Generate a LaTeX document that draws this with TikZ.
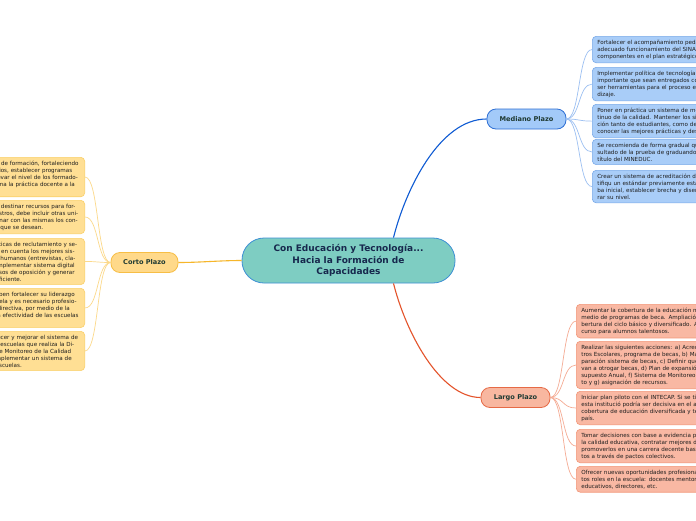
\documentclass[tikz,border=0pt]{standalone}
\usepackage{fontspec}
\setmainfont{DejaVu Sans}
\definecolor{cenf}{HTML}{7ECDC2}
\definecolor{cenb}{HTML}{3D8FD4}
\definecolor{cent}{HTML}{17284D}
\definecolor{medf}{HTML}{A3CAF9}
\definecolor{medb}{HTML}{2E6FD4}
\definecolor{medc}{HTML}{0F5BD3}
\definecolor{corf}{HTML}{FFD98A}
\definecolor{corb}{HTML}{F7BE45}
\definecolor{corc}{HTML}{F6B62A}
\definecolor{larf}{HTML}{F8B7A0}
\definecolor{larb}{HTML}{E66A46}
\definecolor{larc}{HTML}{E4532B}
\definecolor{mlf}{HTML}{A9CDF8}
\definecolor{mlb}{HTML}{7AAAE8}
\definecolor{mfan}{HTML}{9CC0F2}
\definecolor{clf}{HTML}{FFDF94}
\definecolor{clb}{HTML}{FAD06A}
\definecolor{cfan}{HTML}{FCD98A}
\definecolor{llf}{HTML}{F9B8A3}
\definecolor{llb}{HTML}{F29678}
\definecolor{lfan}{HTML}{F5AC94}
\definecolor{brt}{HTML}{1F3A33}
\definecolor{leaft}{HTML}{1E1E1E}
\newcommand\leaffont{\fontsize{5.6}{7}\selectfont}
\newcommand\LN[1]{\mbox{#1}}
\begin{document}
\begin{tikzpicture}[x=1pt,y=-1pt,
  central/.style={draw=cenb, fill=cenf, line width=0.8pt, rounded corners=22pt,
    minimum width=213pt, minimum height=45pt, align=center, inner sep=0pt,
    font=\fontsize{9}{11.5}\selectfont\bfseries, text=cent},
  branch/.style={line width=0.8pt, rounded corners=9pt, minimum height=20pt,
    inner sep=0pt, font=\fontsize{6.6}{8}\selectfont\bfseries, text=brt},
  leafbase/.style={rounded corners=4pt, line width=0.6pt, align=left,
    inner ysep=3.5pt, font=\leaffont, text=leaft},
  leafR/.style={leafbase, anchor=north west, text width=200pt, inner xsep=5pt},
  leafL/.style={leafbase, anchor=north east, text width=86pt, inner xsep=3pt},
  mleaf/.style={leafR, draw=mlb, fill=mlf},
  lleaf/.style={leafR, draw=llb, fill=llf},
  cleaf/.style={leafL, draw=clb, fill=clf},
  mainline/.style={line width=1.1pt},
  fanline/.style={line width=0.7pt}
]
\clip (0,0) rectangle (696,520);
\fill[white] (0,0) rectangle (696,520);

% central and branches
\node[central] (c) at (348.5,260.5) {Con Educación y Tecnología...\\Hacia la Formación de\\Capacidades};
\node[branch, draw=medb, fill=medf, minimum width=79pt] (med) at (526.5,119) {Mediano Plazo};
\node[branch, draw=corb, fill=corf, minimum width=67pt] (cor) at (144.5,262.5) {Corto Plazo};
\node[branch, draw=larb, fill=larf, minimum width=69pt] (lar) at (515.5,397.5) {Largo Plazo};

% Mediano leaves
\node[mleaf] (m1) at (592,36) {Fortalecer el acompañamiento peda\\adecuado funcionamiento del SINAE\\componentes en el plan estratégico};
\node[mleaf] (m2) at (592,67) {Implementar política de tecnología e\\importante que sean entregados co\\ser herramientas para el proceso en\\dizaje.};
\node[mleaf] (m3) at (592,104) {Poner en práctica un sistema de me\\tinuo de la calidad. Mantener los sit\\ción tanto de estudiantes, como de\\conocer las mejores prácticas y des.};
\node[mleaf] (m4) at (592,139) {Se recomienda de forma gradual qu\\sultado de la prueba de graduandos\\título del MINEDUC.};
\node[mleaf] (m5) at (592,170) {Crear un sistema de acreditación de\\tifiqu un estándar previamente esta\\ba inicial, establecer brecha y diseñ\\rar su nivel.};

% Largo leaves
\node[lleaf] (l1) at (576,304) {Aumentar la cobertura de la educación m\\medio de programas de beca. Ampliación\\bertura del ciclo básico y diversificado. As\\curso para alumnos talentosos.};
\node[lleaf] (l2) at (576,341) {Realizar las siguientes acciones: a) Acredi\\tros Escolares, programa de becas, b) Ma\\paración sistema de becas, c) Definir que\\van a otrogar becas, d) Plan de expansión\\supuesto Anual, f) Sistema de Monitoreo\\to y g) asignación de recursos.};
\node[lleaf] (l3) at (576,391) {Iniciar plan piloto con el INTECAP. Si se tie\\esta institució podría ser decisiva en el au\\cobertura de educación diversificada y téc\\país.};
\node[lleaf] (l4) at (576,429) {Tomar decisiones con base a evidencia pa\\la calidad educativa, contratar mejores do\\promoverlos en una carrera decente basa\\tos a través de pactos colectivos.};
\node[lleaf] (l5) at (576,466) {Ofrecer nuevas oportunidades profesionale\\tos roles en la escuela: docentes mentore\\educativos, directores, etc.};

% Corto leaves
\node[cleaf] (k1) at (85,157) {\LN{e de formación, fortaleciendo}\\\LN{dios, establecer programas}\\\LN{levar el nivel de los formado-}\\\LN{rma la práctica docente a la}\\~};
\node[cleaf] (k2) at (85,200) {\LN{a destinar recursos para for-}\\\LN{estros, debe incluir otras uni-}\\\LN{tinar con las mismas los con-}\\\LN{s que se desean.}};
\node[cleaf] (k3) at (85,238) {\LN{cticas de reclutamiento y se-}\\\LN{n en cuenta los mejores sis-}\\\LN{s humanos (entrevistas, cla-}\\\LN{Implementar sistema digital}\\\LN{esos de oposición y generar}\\\LN{eficiente.}};
\node[cleaf] (k4) at (85,288) {\LN{eben fortalecer su liderazgo}\\\LN{uela y es necesario profesio-}\\\LN{ directiva, por medio de la}\\\LN{la efectividad de las escuelas}\\~};
\node[cleaf] (k5) at (85,331) {\LN{lecer y mejorar el sistema de}\\\LN{s escuelas que realiza la Di-}\\\LN{de Monitoreo de la Calidad}\\\LN{mplementar un sistema de}\\\LN{escuelas.}};

% main connectors
\draw[mainline, medc] ([xshift=45pt]c.north) .. controls +(12,-48) and +(-47,0) .. (med.west);
\draw[mainline, larc] ([xshift=45pt]c.south) .. controls +(12,48) and +(-41,0) .. (lar.west);
\draw[mainline, corc] (c.west) .. controls +(-22,0) and +(22,0) .. (cor.east);

% fans
\foreach \n in {m1,m2,m3,m4,m5}
  \draw[fanline, mfan] (med.east) .. controls +(14,0) and +(-14,0) .. (\n.west);
\foreach \n in {l1,l2,l3,l4,l5}
  \draw[fanline, lfan] (lar.east) .. controls +(14,0) and +(-14,0) .. (\n.west);
\foreach \n in {k1,k2,k3,k4,k5}
  \draw[fanline, cfan] (cor.west) .. controls +(-14,0) and +(14,0) .. (\n.east);
\end{tikzpicture}
\end{document}
